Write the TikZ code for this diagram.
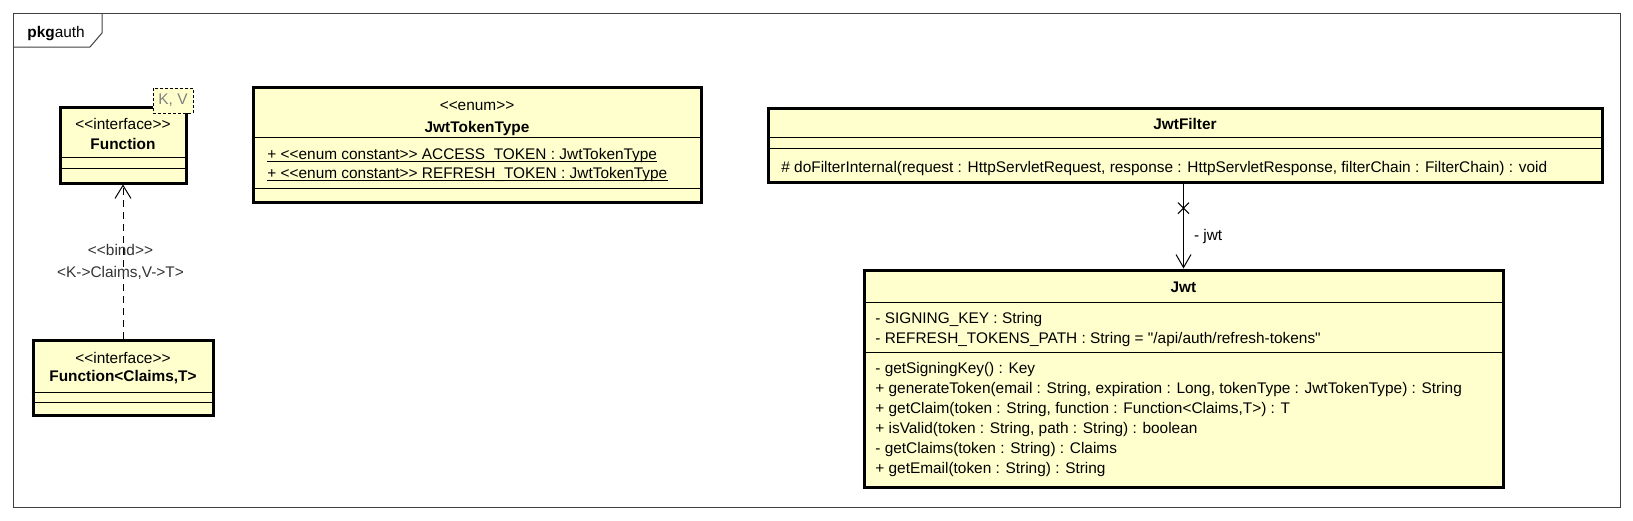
\documentclass[tikz,border=0pt]{standalone}
\usepackage{fontspec}
\setmainfont{Liberation Sans}[Ligatures=TeXOff]
\usetikzlibrary{arrows.meta,shapes.misc}
\definecolor{umlfill}{RGB}{255,255,206}

\begin{document}
\begin{tikzpicture}[x=0.5pt,y=-0.5pt]
\tikzstyle{every node}=[inner sep=0pt, font=\fontsize{7.7}{11}\selectfont]
\tikzstyle{cls}=[draw, line width=1.5pt, fill=umlfill]
\tikzstyle{sep}=[line width=0.5pt]
\tikzstyle{member}=[anchor=base west]
\tikzstyle{stereo}=[anchor=base]
\tikzstyle{title}=[anchor=base, font=\fontsize{7.7}{11}\selectfont\bfseries]
\tikzstyle{dep}=[line width=0.5pt, dash pattern=on 3.5pt off 2.5pt, -{Straight Barb[length=6.5pt,width=8pt]}]
\tikzstyle{assoc}=[line width=0.5pt, -{Straight Barb[length=6.5pt,width=7.5pt]}]

\useasboundingbox (0,0) rectangle (1633,520);
\draw[line width=0.5pt, black!75] (13,13) rectangle (1620,507);
\draw[line width=0.5pt, black!75] (13,47) -- (90,47) -- (102,33) -- (102,13);
\node[anchor=base west] (pkg) at (27,37) {\textbf{pkg}auth};

\node[cls, minimum width=63pt, minimum height=38pt] (fn) at (123,145) {};
\node[stereo] (fnst) at (123,129) {<<interface>>};
\node[title] (fnname) at (123,149) {Function};
\draw[sep] (fn.west |- 0,157) -- (fn.east |- 0,157);
\draw[sep] (fn.west |- 0,168) -- (fn.east |- 0,168);
\node[draw, dash pattern=on 1.5pt off 1pt, line width=0.5pt, fill=umlfill, text=black!50,
  minimum width=20pt, minimum height=12.5pt] (fnpar) at (173,100.5) {K, V};

\node[cls, minimum width=90pt, minimum height=37.5pt] (fcl) at (123,377.5) {};
\node[stereo] (fclst) at (123,363) {<<interface>>};
\node[title] (fclname) at (123,381) {Function<Claims,T>};
\draw[sep] (fcl.west |- 0,392) -- (fcl.east |- 0,392);
\draw[sep] (fcl.west |- 0,402) -- (fcl.east |- 0,402);

\draw[dep] (fcl.north) -- node[align=center, xshift=-1.25pt, text=black!80] (bind)
  {<<bind>>\\<K->Claims,V->T>} (fn.south);

\node[cls, minimum width=224pt, minimum height=57.5pt] (tt) at (477,144.5) {};
\node[stereo] (ttst) at (477,110) {<<enum>>};
\node[title] (ttname) at (477,132) {JwtTokenType};
\draw[sep] (tt.west |- 0,137) -- (tt.east |- 0,137);
\node[member] (tta) at (267,159) {+ <<enum constant>> ACCESS\_TOKEN : JwtTokenType};
\node[member] (ttb) at (267,178) {+ <<enum constant>> REFRESH\_TOKEN : JwtTokenType};
\draw[sep] ([yshift=-1pt]tta.base west) -- ([yshift=-1pt]tta.base east);
\draw[sep] ([yshift=-1pt]ttb.base west) -- ([yshift=-1pt]ttb.base east);
\draw[sep] (tt.west |- 0,188) -- (tt.east |- 0,188);

\node[cls, minimum width=417pt, minimum height=37pt] (filter) at (1185,145) {};
\node[title] (filtername) at (1185,129) {JwtFilter};
\draw[sep] (filter.west |- 0,137) -- (filter.east |- 0,137);
\draw[sep] (filter.west |- 0,148) -- (filter.east |- 0,148);
\node[member] (filterm) at (781,172) {\# doFilterInternal(request : HttpServletRequest, response : HttpServletResponse, filterChain : FilterChain) : void};

\node[cls, minimum width=319.5pt, minimum height=108.5pt] (jwt) at (1183.5,378.5) {};
\node[title] (jwtname) at (1183.5,292) {Jwt};
\draw[sep] (jwt.west |- 0,302) -- (jwt.east |- 0,302);
\node[member] (jwta) at (875,323) {- SIGNING\_KEY : String};
\node[member] (jwtb) at (875,343) {- REFRESH\_TOKENS\_PATH : String = "/api/auth/refresh-tokens"};
\draw[sep] (jwt.west |- 0,352) -- (jwt.east |- 0,352);
\node[member] (jwtm1) at (875,373) {- getSigningKey() : Key};
\node[member] (jwtm2) at (875,393) {+ generateToken(email : String, expiration : Long, tokenType : JwtTokenType) : String};
\node[member] (jwtm3) at (875,413) {+ getClaim(token : String, function : Function<Claims,T>) : T};
\node[member] (jwtm4) at (875,433) {+ isValid(token : String, path : String) : boolean};
\node[member] (jwtm5) at (875,453) {- getClaims(token : String) : Claims};
\node[member] (jwtm6) at (875,473) {+ getEmail(token : String) : String};

\draw[assoc] (filter.south -| jwt.north) --
  node[pos=0.29, cross out, draw, minimum size=5pt, line width=0.5pt] (navx) {}
  node[pos=0.665, anchor=base west, xshift=5pt] (role) {- jwt} (jwt.north);
\end{tikzpicture}
\end{document}
